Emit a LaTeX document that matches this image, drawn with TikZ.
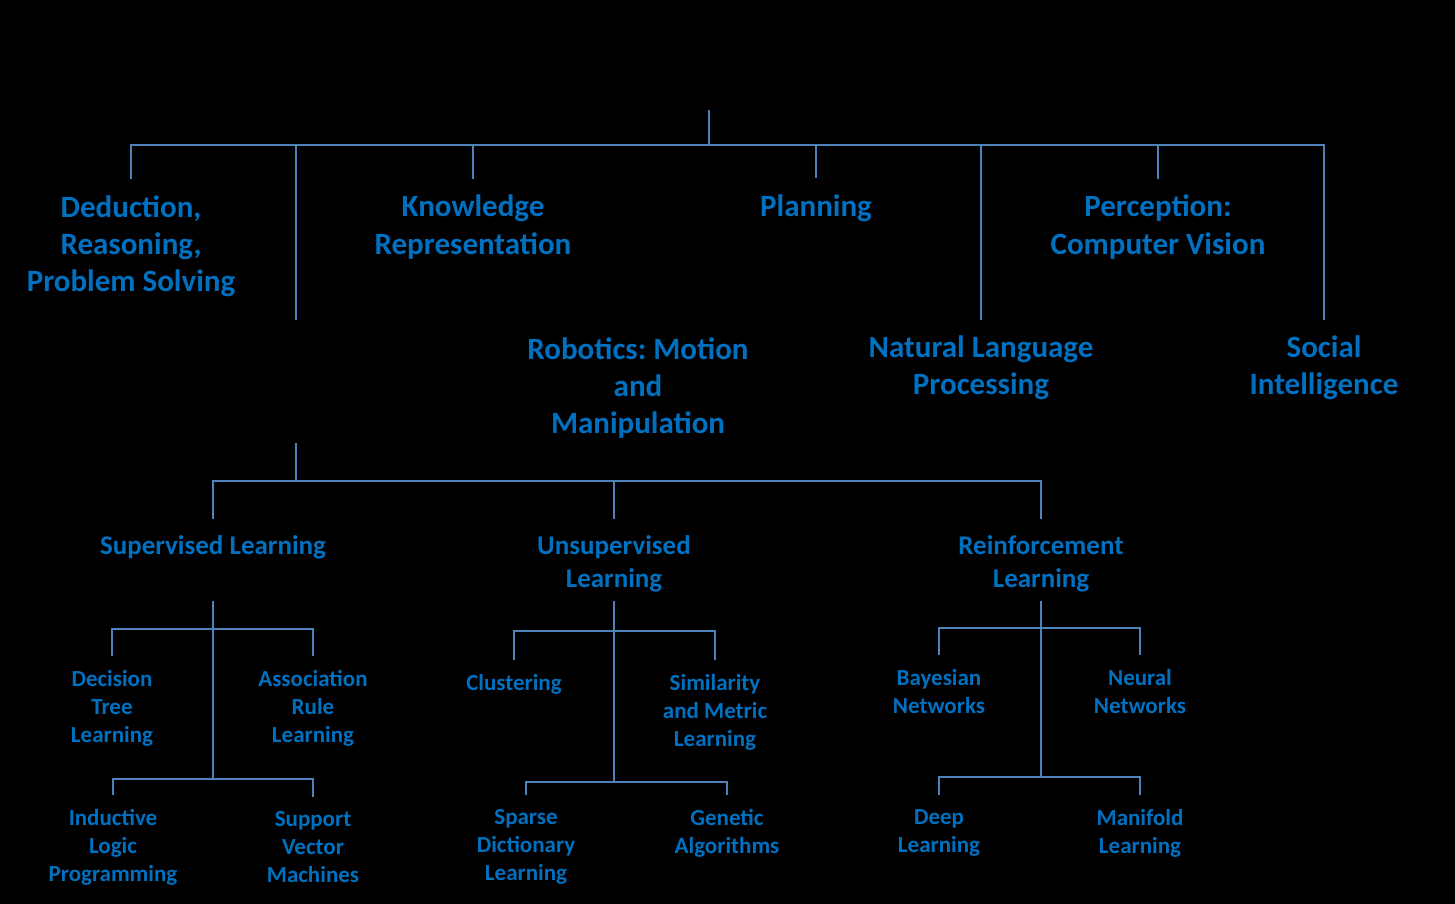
\documentclass[tikz,border=0pt]{standalone}
\usepackage{fontspec}
\setmainfont{Carlito}
\definecolor{txtblue}{RGB}{0,112,192}
\definecolor{lineblue}{RGB}{79,129,189}

\begin{document}
\begin{tikzpicture}[x=0.5pt,y=-0.5pt,
  lvlA/.style={align=center,inner sep=0pt,text=txtblue,font=\fontsize{15.5}{18.6}\selectfont\bfseries},
  lvlB/.style={align=center,inner sep=0pt,text=txtblue,font=\fontsize{13.5}{16.5}\selectfont\bfseries},
  lvlC/.style={align=center,inner sep=0pt,text=txtblue,font=\fontsize{11.5}{14}\selectfont\bfseries},
  link/.style={draw=lineblue,line width=1.1pt},
  linkA/.style={link,shorten >=8pt},
  linkC/.style={link,shorten >=7pt}]
\fill[black] (0,0) rectangle (1455,904);
% first level
\coordinate (ai) at (709,110);
\coordinate (aibus) at (709,145);
\coordinate (ml) at (296,320);
\node[lvlA] (ded) at (131,246) {Deduction,\\Reasoning,\\Problem Solving};
\node[lvlA] (kr) at (473,227) {Knowledge\\Representation};
\node[lvlA] (plan) at (816,208) {Planning};
\node[lvlA] (perc) at (1158,227) {Perception:\\Computer Vision};
\node[lvlA] (rob) at (638,388) {Robotics:\ Motion\\and\\Manipulation};
\node[lvlA] (nlp) at (981,368) {Natural Language\\Processing};
\node[lvlA] (soc) at (1324,368) {Social\\Intelligence};
\draw[link] (ai) -- (aibus);
\draw[linkA] (aibus) -| (ded.north);
\draw[link] (aibus) -| (ml);
\draw[linkA] (aibus) -| (kr.north);
\draw[linkA] (aibus) -| (plan.north);
\draw[linkA] (aibus) -| (nlp.north);
\draw[linkA] (aibus) -| (perc.north);
\draw[linkA] (aibus) -| (soc.north);
% learning
\coordinate (mltop) at (296,443);
\coordinate (mlbus) at (296,481);
\node[lvlB] (sl) at (213,547) {Supervised Learning};
\node[lvlB] (ul) at (614,564) {Unsupervised\\Learning};
\node[lvlB] (rl) at (1041,564) {Reinforcement\\Learning};
\draw[link] (mltop) -- (mlbus);
\draw[linkA] (mlbus) -| (sl.north);
\draw[linkA] (mlbus) -| (ul.north);
\draw[linkA] (mlbus) -| (rl.north);
% supervised
\coordinate (slj) at (213,601);
\coordinate (slb) at (213,629);
\coordinate (sle) at (213,779);
\node[lvlC] (dt) at (112,708) {Decision\\Tree\\Learning};
\node[lvlC] (ar) at (313,708) {Association\\Rule\\Learning};
\node[lvlC] (ilp) at (113,847) {Inductive\\Logic\\Programming};
\node[lvlC] (svm) at (313,847) {Support\\Vector\\Machines};
\draw[link] (slj) -- (sle);
\draw[linkC] (slb) -| (dt.north);
\draw[linkC] (slb) -| (ar.north);
\draw[linkC] (sle) -| (ilp.north);
\draw[linkC] (sle) -| (svm.north);
% unsupervised
\coordinate (ulj) at (614,601);
\coordinate (ulb) at (614,631);
\coordinate (ule) at (614,782);
\node[lvlC] (clu) at (514,684) {Clustering};
\node[lvlC] (sim) at (715,712) {Similarity\\and Metric\\Learning};
\node[lvlC] (sdl) at (526,847) {Sparse\\Dictionary\\Learning};
\node[lvlC] (ga) at (727,833) {Genetic\\Algorithms};
\draw[link] (ulj) -- (ule);
\draw[linkC] (ulb) -| (clu.north);
\draw[linkC] (ulb) -| (sim.north);
\draw[linkC] (ule) -| (sdl.north);
\draw[linkC] (ule) -| (ga.north);
% reinforcement
\coordinate (rlj) at (1041,601);
\coordinate (rlb) at (1041,628);
\coordinate (rle) at (1041,777);
\node[lvlC] (bn) at (939,692) {Bayesian\\Networks};
\node[lvlC] (nn) at (1140,692) {Neural\\Networks};
\node[lvlC] (dl) at (939,833) {Deep\\Learning};
\node[lvlC] (mfl) at (1140,833) {Manifold\\Learning};
\draw[link] (rlj) -- (rle);
\draw[linkC] (rlb) -| (bn.north);
\draw[linkC] (rlb) -| (nn.north);
\draw[linkC] (rle) -| (dl.north);
\draw[linkC] (rle) -| (mfl.north);
\end{tikzpicture}
\end{document}
